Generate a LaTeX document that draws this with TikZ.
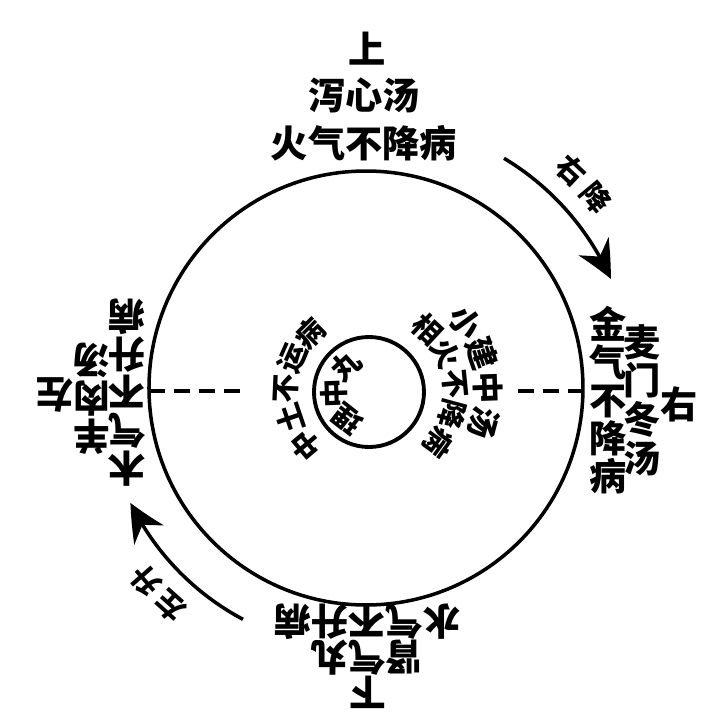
\documentclass[tikz,border=0pt]{standalone}
\usepackage{fontspec}
\newfontfamily\cjk{Noto Sans CJK SC}
\usetikzlibrary{arrows.meta,bending}

\tikzset{
  hanzi/.style={font=\cjk\bfseries\fontsize{10.6}{10.8}\selectfont, inner sep=0pt},
  piccolo/.style={font=\cjk\bfseries\fontsize{8.2}{9}\selectfont, inner sep=0pt},
  colonna/.style={hanzi, align=center},
  freccia/.style={line width=1pt, -{Stealth[length=3.7mm,width=3.5mm,inset=1.2mm,bend]}},
  tratto/.style={line width=1.1pt, dash pattern=on 4.5pt off 2.6pt}
}

\begin{document}
\begin{tikzpicture}
  \useasboundingbox (-3.66,-3.35) rectangle (3.60,3.88);

  % cerchi
  \draw[line width=1pt] (0,0) circle (2.17);
  \coordinate (C) at (0.03,-0.04);
  \draw[line width=1.1pt] (C) circle (0.55);

  % tratteggi
  \coordinate (Ls) at (-2.17,-0.03);
  \coordinate (Le) at (-1.26,-0.03);
  \coordinate (Rs) at (2.18,-0.03);
  \coordinate (Re) at (1.47,-0.03);
  \draw[tratto] (Ls) -- (Le);
  \draw[tratto] (Rs) -- (Re);

  % frecce
  \draw[freccia] (59:2.68) arc[start angle=59,end angle=24,radius=2.68];
  \draw[freccia] (242:2.62) arc[start angle=242,end angle=206,radius=2.62];

  % etichette delle frecce
  \foreach \c/\a [count=\i] in {右/46.6,降/39.6}
    \node[piccolo,rotate=\a-90] (rj\i) at (\a:2.99) {\c};
  \foreach \c/\a [count=\i] in {左/228.2,升/221.2}
    \node[piccolo,rotate=\a-90] (zs\i) at (\a:2.93) {\c};

  % sopra
  \node[hanzi] (shang) at (0.01,3.39) {上};
  \node[hanzi] (xiexin) at (-0.02,2.93) {泻心汤};
  \node[hanzi] (huoqi) at (-0.02,2.45) {火气不降病};

  % sotto
  \node[hanzi,rotate=180] (shuiqi) at (0.01,-2.34) {水气不升病};
  \node[hanzi,rotate=180] (shenqi) at (0.01,-2.70) {肾气丸};
  \node[hanzi,rotate=180] (xia) at (0.02,-3.04) {下};

  % destra
  \node[colonna] (jinqi) at (2.42,-0.12) {金\\气\\不\\降\\病};
  \node[colonna,font=\cjk\bfseries\fontsize{10.6}{11}\selectfont] (maimen) at (2.76,-0.12) {麦\\门\\冬\\汤};
  \node[hanzi] (you) at (3.13,-0.16) {右};

  % sinistra
  \node[colonna,rotate=180] (muqi) at (-2.39,-0.05) {木\\气\\不\\升\\病};
  \node[colonna,rotate=180] (yangrou) at (-2.74,-0.11) {羊\\肉\\汤};
  \node[hanzi,rotate=180] (zuo) at (-3.11,-0.07) {左};

  % testo attorno al cerchio piccolo
  \begin{scope}[shift={(C)}]
    \foreach \c/\a [count=\i] in {中/220,土/198.75,不/177.5,运/156.25,病/135}
      \node[piccolo,rotate=\a-90] (zt\i) at (\a:0.83) {\c};
    \foreach \c/\a [count=\i] in {相/47,火/26.3,不/5.6,降/-15.1,病/-35.8}
      \node[piccolo,rotate=\a-90] (xh\i) at (\a:0.86) {\c};
    \foreach \c/\a [count=\i] in {小/36,建/19,中/2,汤/-15}
      \node[piccolo,font=\cjk\bfseries\fontsize{9}{10}\selectfont,rotate=\a-90] (xj\i) at (\a:1.19) {\c};
    \foreach \c/\a [count=\i] in {理/232,中/182,丸/132}
      \node[piccolo,rotate=\a-90] (lz\i) at (\a:0.35) {\c};
  \end{scope}
\end{tikzpicture}
\end{document}
